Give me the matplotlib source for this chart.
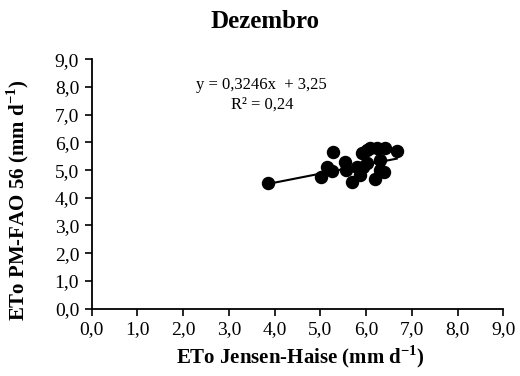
import numpy as np
import matplotlib
matplotlib.use('Agg')
import matplotlib.pyplot as plt

plt.rcParams['font.family'] = 'Liberation Serif'
plt.rcParams['mathtext.fontset'] = 'custom'
plt.rcParams['mathtext.rm'] = 'Liberation Serif'
plt.rcParams['mathtext.bf'] = 'Liberation Serif:bold'

# ETo Jensen-Haise (x) vs ETo PM-FAO 56 (y), December
eto_jh = [3.86, 5.01, 5.15, 5.25, 5.28, 5.54, 5.56, 5.69, 5.79, 5.86, 5.90,
          5.94, 6.01, 6.01, 6.09, 6.19, 6.23, 6.30, 6.30, 6.38, 6.42, 6.67]
eto_pm = [4.55, 4.74, 5.12, 4.98, 5.65, 5.31, 5.00, 4.58, 5.12, 4.82, 5.61,
          5.12, 5.25, 5.73, 5.79, 4.68, 5.79, 5.37, 5.00, 4.94, 5.79, 5.70]
slope = 0.3246
intercept = 3.25
r2 = 0.24
ticks = np.arange(0, 10, 1)


def fmt(t):
    return ('%.1f' % t).replace('.', ',')


fig = plt.figure(figsize=(5.2, 3.76), dpi=100)
ax = fig.add_axes([0.1763, 0.1795, 0.7917, 0.6625])

ax.scatter(eto_jh, eto_pm, s=75, color='black', zorder=3)
xl = np.array([min(eto_jh), max(eto_jh)])
ax.plot(xl, slope * xl + intercept, color='black', lw=1.5, zorder=2)

ax.text(3.72, 8.08, 'y = 0,3246x  + 3,25', ha='center', va='center', fontsize=12)
ax.text(3.72, 7.36, 'R² = ' + ('%.2f' % r2).replace('.', ','),
        ha='center', va='center', fontsize=12)

ax.set_xlim(0, 9)
ax.set_ylim(0, 9)
ax.set_xticks(ticks)
ax.set_yticks(ticks)
ax.set_xticklabels([fmt(t) for t in ticks], fontsize=14)
ax.set_yticklabels([fmt(t) for t in ticks], fontsize=14)
ax.tick_params(direction='out', length=5, width=1.2, color='black', pad=4)

for s in ['top', 'right']:
    ax.spines[s].set_visible(False)
for s in ['left', 'bottom']:
    ax.spines[s].set_linewidth(1.3)

ax.set_xlabel(r'ETo Jensen-Haise (mm d$^{\mathbf{-1}}$)', fontsize=15,
              fontweight='bold', va='center')
ax.set_ylabel(r'ETo PM-FAO 56 (mm d$^{\mathbf{-1}}$)', fontsize=15,
              fontweight='bold', va='center')
ax.xaxis.set_label_coords(0.506, -0.195)
ax.yaxis.set_label_coords(-0.179, 0.436)

fig.text(265 / 520, 1 - 22 / 376, 'Dezembro', ha='center', va='center',
         fontsize=18, fontweight='bold')

fig.savefig('out.png', dpi=100)
